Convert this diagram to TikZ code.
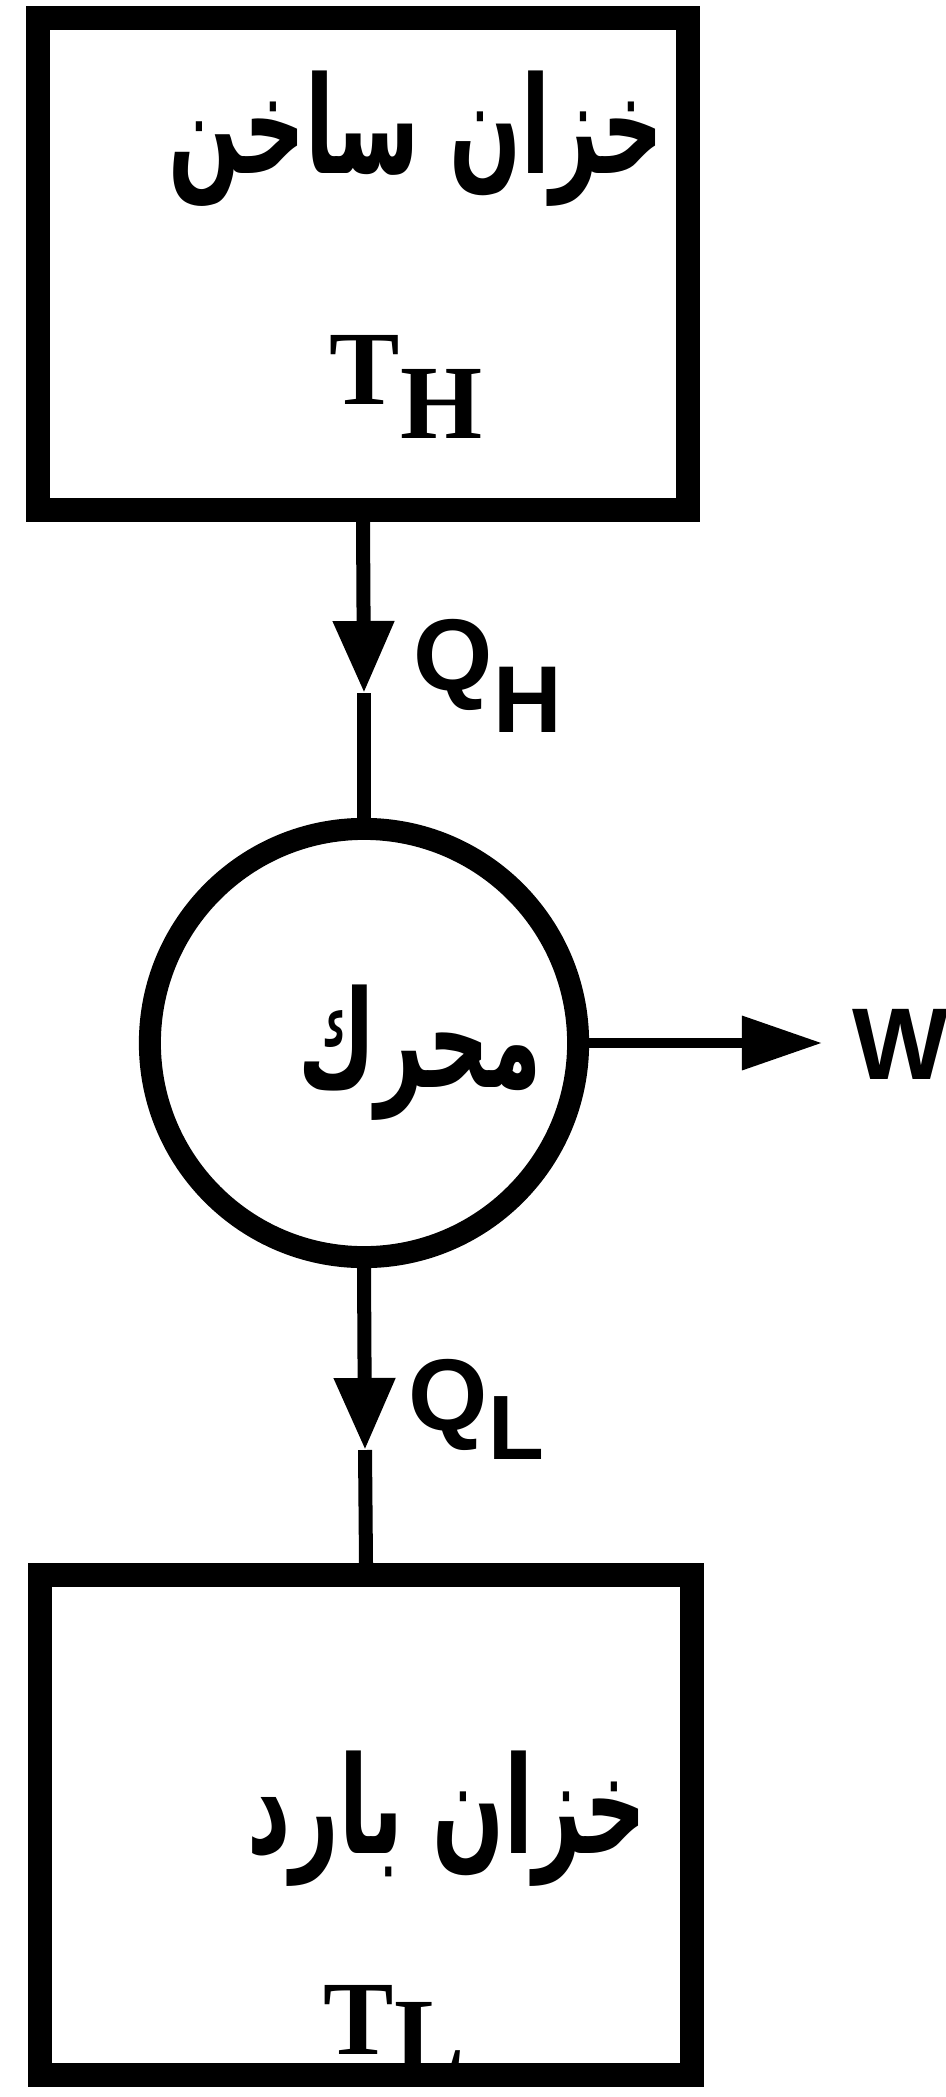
\documentclass[tikz,border=0pt]{standalone}
\usepackage{fontspec}
\setmainfont{Liberation Serif}
\newfontfamily\arabicfont[Script=Arabic]{DejaVu Sans}
\newfontfamily\labelfont{Liberation Sans}
\TeXXeTstate=1
\usetikzlibrary{arrows.meta}
\newcommand{\tallar}[1]{\scalebox{1}[1.6]{\beginR #1\endR}}
\tikzset{
  tank/.style ={draw, line width=0.24cm, minimum width=6.5cm, minimum height=4.92cm, inner sep=0pt},
  eng/.style  ={circle, draw, line width=0.22cm, minimum size=4.28cm, inner sep=0pt},
  arab/.style ={inner sep=0pt, font=\arabicfont\bfseries\fontsize{24}{30}\selectfont},
  temp/.style ={inner sep=0pt, font=\bfseries\fontsize{30}{32}\selectfont},
  sym/.style  ={inner sep=0pt, font=\labelfont\bfseries\fontsize{29}{32}\selectfont},
  flow/.style ={line width=0.14cm},
  heat/.style ={flow, -{Triangle[length=0.72cm, width=0.58cm]}},
  work/.style ={line width=0.1cm, -{Triangle[length=0.8cm, width=0.52cm]}},
}

\begin{document}
\begin{tikzpicture}[x=0.01cm, y=-0.01cm]
  \useasboundingbox (0,0) rectangle (945,2097);
  % --- hot reservoir ---
  \node[tank] (hot) at (363,264) {};
  \node[arab, anchor=base] (hotname) at (416,174) {\tallar{خزان ساخن}};
  \node[temp, anchor=base west] (th) at (329,404) {T\raisebox{-9.7pt}{H}};
  % --- engine ---
  \node[eng] (engine) at (364,1043) {};
  \node[arab, anchor=base] (engname) at (420,1087) {\tallar{محرك}};
  % --- cold reservoir ---
  \node[temp, anchor=base west] (tl) at (323,2054) {T\raisebox{-5pt}{L}};
  \node[tank, minimum width=6.51cm, minimum height=5cm] (cold) at (366,1825) {};
  \node[arab, anchor=base] (coldname) at (447,1853) {\tallar{خزان بارد}};
  % --- heat and work flows ---
  \coordinate (qhtip) at (364,693);
  \coordinate (qltip) at (365,1450);
  \coordinate (wtip) at (822,1043);
  \draw[heat] (hot.south) -- (qhtip);
  \draw[flow] (qhtip) -- (engine.north);
  \draw[heat] (engine.south) -- (qltip);
  \draw[flow] (qltip) -- (cold.north);
  \draw[work] (engine.east) -- (wtip);
  \node[sym, anchor=base west] (qh) at (413,690) {Q\raisebox{-12pt}{\fontsize{27}{30}\selectfont H}};
  \node[sym, anchor=base west] (ql) at (408,1430) {Q\raisebox{-8.5pt}{\fontsize{26}{30}\selectfont L}};
  \node[sym, anchor=base west] (w) at (852,1079) {W};
\end{tikzpicture}
\end{document}
